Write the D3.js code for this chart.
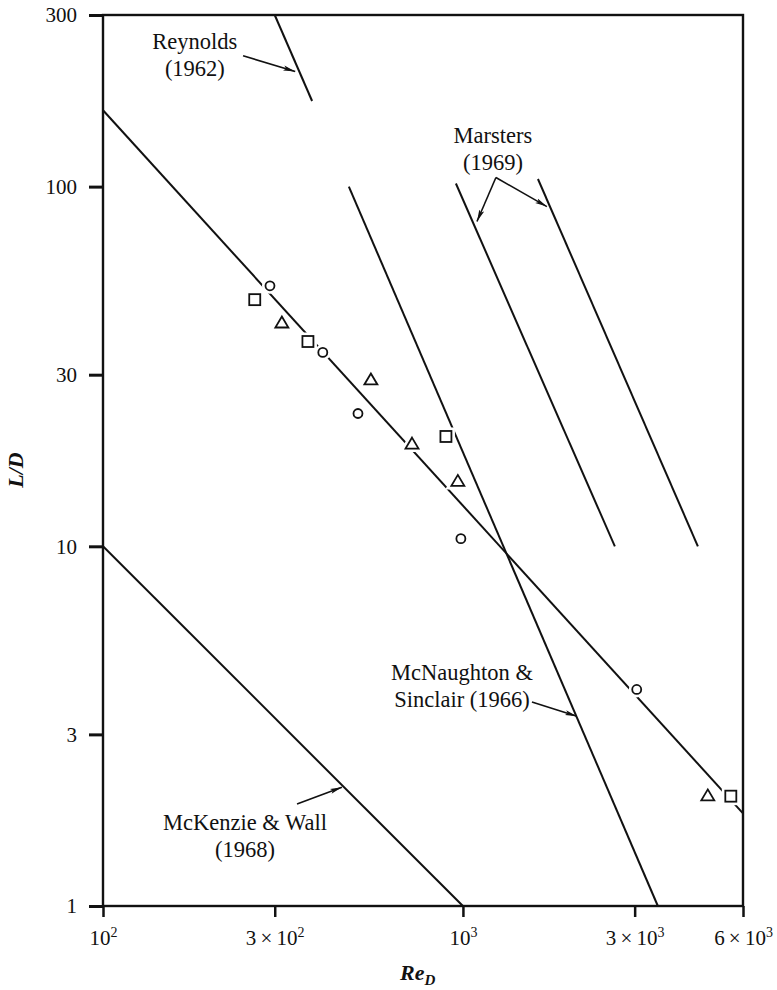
<!DOCTYPE html>
<meta charset="utf-8">
<script src="https://d3js.org/d3.v7.min.js"></script>
<style>
  body { margin: 0; background: #fff; }
  text { font-family: "Liberation Serif", "Times New Roman", serif; fill: #111; }
</style>
<div id="chart"></div>
<script>
// ---- data (Re_D, L/D) ----
var xTicks = [100, 300, 1000, 3000, 6000];
var yTicks = [1, 3, 10, 30, 100, 300];

var circles   = [[291, 53], [408, 34.6], [511, 23.4], [987, 10.5], [3040, 4.0]];
var squares   = [[264, 48.5], [371, 37.1], [897, 20.2], [5550, 2.02]];
var triangles = [[314, 41.9], [555, 29.1], [722, 19.3], [968, 15.2], [4790, 2.03]];

var fitLine     = [[100, 163], [6000, 1.81]];
var reynolds    = [[300, 300], [381, 173]];
var mcnaughton  = [[482, 100], [3480, 1]];
var marsters1   = [[956, 102], [2643, 10]];
var marsters2   = [[1616, 105], [4496, 10]];
var mckenzie    = [[100, 10], [1000, 1]];

// labels: anchor point (data coords) + lines of text
var labels = [
  {pos: [180, 242],  lines: ["Reynolds", "(1962)"]},
  {pos: [1212, 132], lines: ["Marsters", "(1969)"]},
  {pos: [994, 4.24], lines: ["McNaughton &", "Sinclair (1966)"]},
  {pos: [248, 1.63], lines: ["McKenzie & Wall", "(1968)"]}
];
// arrows: from -> to (data coords)
var arrows = [
  [[245, 231], [342, 209]],
  [[1235, 106], [1094, 80]],
  [[1235, 106], [1711, 88]],
  [[1555, 3.69], [2073, 3.37]],
  [[346, 1.92], [461, 2.14]]
];

var W = 777, H = 990;
var margin = {top: 15, right: 34, bottom: 84, left: 103};

var svg = d3.select("#chart").append("svg")
  .attr("width", W).attr("height", H);

var x = d3.scaleLog().domain([100, 6000]).range([margin.left, W - margin.right]);
var y = d3.scaleLog().domain([1, 300]).range([H - margin.bottom, margin.top]);

svg.append("defs").append("marker")
  .attr("id", "arrow")
  .attr("viewBox", "0 0 12 6")
  .attr("refX", 12).attr("refY", 3)
  .attr("markerWidth", 12).attr("markerHeight", 6)
  .attr("markerUnits", "userSpaceOnUse")
  .attr("orient", "auto")
  .append("path")
    .attr("d", "M0,0.4 L12,3 L0,5.6 L2.5,3 Z")
    .attr("fill", "#111");

// frame
svg.append("rect")
  .attr("x", x(100)).attr("y", y(300))
  .attr("width", x(6000) - x(100))
  .attr("height", y(1) - y(300))
  .attr("fill", "none")
  .attr("stroke", "#111")
  .attr("stroke-width", 2.4);

// y axis
var yAxis = svg.append("g")
  .attr("transform", "translate(" + x(100) + ",0)")
  .call(d3.axisLeft(y).tickValues(yTicks).tickSize(14).tickPadding(12)
        .tickFormat(d3.format("d")));
yAxis.select(".domain").remove();
yAxis.selectAll(".tick line").attr("stroke", "#111").attr("stroke-width", 3);
yAxis.selectAll("text").attr("font-size", 21).attr("fill", "#111")
  .style("font-family", "Liberation Serif");

// x axis
var xAxis = svg.append("g")
  .attr("transform", "translate(0," + y(1) + ")")
  .call(d3.axisBottom(x).tickValues(xTicks).tickSize(11).tickFormat(""));
xAxis.select(".domain").remove();
xAxis.selectAll(".tick line").attr("stroke", "#111").attr("stroke-width", 2.5);
xAxis.selectAll(".tick").each(function(d) {
  var e = Math.floor(Math.log10(d) + 1e-9);
  var m = Math.round(d / Math.pow(10, e));
  var t = d3.select(this).append("text")
    .attr("y", 39)
    .attr("text-anchor", "middle")
    .attr("font-size", 21)
    .attr("fill", "#111");
  if (m !== 1) t.append("tspan").text(m + "\u2009\u00d7\u2009");
  t.append("tspan").text("10");
  t.append("tspan").attr("dy", -8).attr("font-size", 14).text(e);
});

// axis titles
var xt = svg.append("text")
  .attr("x", 400).attr("y", 980)
  .attr("font-size", 22)
  .attr("font-weight", "bold")
  .attr("font-style", "italic");
xt.append("tspan").text("Re");
xt.append("tspan").attr("dy", 5).attr("font-size", 15).text("D");

svg.append("text")
  .attr("transform", "translate(23,470) rotate(-90)")
  .attr("text-anchor", "middle")
  .attr("font-size", 22)
  .attr("font-weight", "bold")
  .attr("font-style", "italic")
  .text("L/D");

// lines
var line = d3.line()
  .x(function(d) { return x(d[0]); })
  .y(function(d) { return y(d[1]); });

[fitLine, reynolds, mcnaughton, marsters1, marsters2, mckenzie].forEach(function(seg) {
  svg.append("path")
    .attr("d", line(seg))
    .attr("fill", "none")
    .attr("stroke", "#111")
    .attr("stroke-width", 2);
});

// markers: white halo first so the fit line is broken round them
function drawMarkers(stroke, sw) {
  svg.selectAll(null).data(circles).enter().append("circle")
    .attr("cx", function(d) { return x(d[0]); })
    .attr("cy", function(d) { return y(d[1]); })
    .attr("r", 4.5)
    .attr("fill", "#fff").attr("stroke", stroke).attr("stroke-width", sw);
  svg.selectAll(null).data(squares).enter().append("rect")
    .attr("x", function(d) { return x(d[0]) - 5.5; })
    .attr("y", function(d) { return y(d[1]) - 5.5; })
    .attr("width", 11).attr("height", 11)
    .attr("fill", "#fff").attr("stroke", stroke).attr("stroke-width", sw);
  svg.selectAll(null).data(triangles).enter().append("path")
    .attr("transform", function(d) { return "translate(" + x(d[0]) + "," + y(d[1]) + ")"; })
    .attr("d", "M0,-6 L6.5,5 L-6.5,5 Z")
    .attr("fill", "#fff").attr("stroke", stroke).attr("stroke-width", sw)
    .attr("stroke-linejoin", "miter");
}
drawMarkers("#fff", 7);
drawMarkers("#111", 1.8);

// annotations
labels.forEach(function(l) {
  var t = svg.append("text")
    .attr("x", x(l.pos[0])).attr("y", y(l.pos[1]))
    .attr("text-anchor", "middle")
    .attr("font-size", 22.5);
  l.lines.forEach(function(s, i) {
    t.append("tspan")
      .attr("x", x(l.pos[0]))
      .attr("dy", i === 0 ? 0 : 27)
      .text(s);
  });
});

arrows.forEach(function(a) {
  svg.append("line")
    .attr("x1", x(a[0][0])).attr("y1", y(a[0][1]))
    .attr("x2", x(a[1][0])).attr("y2", y(a[1][1]))
    .attr("stroke", "#111")
    .attr("stroke-width", 1.6)
    .attr("marker-end", "url(#arrow)");
});
</script>
